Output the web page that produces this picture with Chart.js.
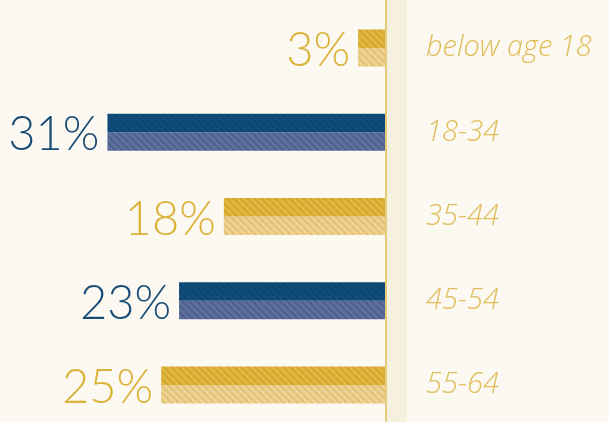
<!DOCTYPE html>
<html>
<head>
<meta charset="utf-8">
<script src="https://cdn.jsdelivr.net/npm/chart.js@4"></script>
<style>
  html, body { margin: 0; padding: 0; background: #fcf9f2; }
  #ages { display: block; }
</style>
</head>
<body>
<canvas id="ages" width="609" height="422"></canvas>
<script>
// Age groups and their share
const ageGroups = ['below age 18', '18-34', '35-44', '45-54', '55-64'];
const shares = [3, 31, 18, 23, 25];
const tones = ['gold', 'blue', 'gold', 'blue', 'gold'];

// hatched fills, stripes running top-left to bottom-right
function hatch(base, stripe) {
    const c = document.createElement('canvas');
    c.width = 7;
    c.height = 7;
    const g = c.getContext('2d');
    g.fillStyle = base;
    g.fillRect(0, 0, 7, 7);
    g.strokeStyle = stripe;
    g.lineWidth = 1.6;
    g.beginPath();
    g.moveTo(-1, -1); g.lineTo(8, 8);
    g.moveTo(-1, 6); g.lineTo(1, 8);
    g.moveTo(6, -1); g.lineTo(8, 1);
    g.stroke();
    return g.createPattern(c, 'repeat');
}

const fills = {
    gold: { top: hatch('#e1b63c', '#cfa231'), bottom: hatch('#eed294', '#e2bf6e'), text: '#dbb238' },
    blue: { top: hatch('#114d7b', '#0e4571'), bottom: hatch('#5d709c', '#4b5e8a'), text: '#184b76' }
};

const backdrop = {
    id: 'backdrop',
    beforeDraw(chart) {
        const { ctx, chartArea, width, height } = chart;
        ctx.save();
        ctx.fillStyle = '#fcf9f2';
        ctx.fillRect(0, 0, width, height);
        ctx.fillStyle = '#f6f0de';
        ctx.fillRect(chartArea.right, 0, 22, height);
        ctx.fillStyle = '#e7ca7c';
        ctx.fillRect(chartArea.right, 0, 2, height);
        ctx.restore();
    }
};

const valueLabels = {
    id: 'valueLabels',
    afterDatasetsDraw(chart) {
        const { ctx } = chart;
        const top = chart.getDatasetMeta(0).data;
        const bottom = chart.getDatasetMeta(1).data;
        ctx.save();
        ctx.font = '300 47px Lato';
        ctx.textAlign = 'right';
        ctx.textBaseline = 'middle';
        top.forEach((bar, i) => {
            const left = Math.min(bar.x, bar.base);
            const y = (bar.y + bottom[i].y) / 2 + 3;
            ctx.fillStyle = fills[tones[i]].text;
            ctx.fillText(shares[i] + '%', left - 8, y);
        });
        ctx.restore();
    }
};

const config = {
    type: 'bar',
    data: {
        labels: ageGroups,
        datasets: [{
            data: shares,
            backgroundColor: tones.map(t => fills[t].top),
            clip: false
        }, {
            data: shares,
            backgroundColor: tones.map(t => fills[t].bottom),
            clip: false
        }]
    },
    options: {
        indexAxis: 'y',
        responsive: false,
        animation: false,
        layout: { padding: { top: 48, bottom: 37, left: 0, right: 0 } },
        datasets: {
            bar: { barPercentage: 1, categoryPercentage: 0.44 }
        },
        plugins: {
            legend: { display: false },
            tooltip: { enabled: false }
        },
        scales: {
            x: {
                display: false,
                reverse: true,
                min: 0,
                max: 43
            },
            y: {
                position: 'right',
                offset: false,
                // invisible tick marks push the labels away from the axis
                grid: { drawOnChartArea: false, tickLength: 41, color: 'transparent' },
                border: { display: false },
                afterFit: (scale) => { scale.width = 224; },
                ticks: {
                    crossAlign: 'near',
                    padding: 0,
                    color: '#dfbd58',
                    font: { family: 'Open Sans', style: 'italic', weight: 300, size: 29 }
                }
            }
        }
    },
    plugins: [backdrop, valueLabels]
};

new Chart(document.getElementById('ages'), config);
</script>
</body>
</html>
